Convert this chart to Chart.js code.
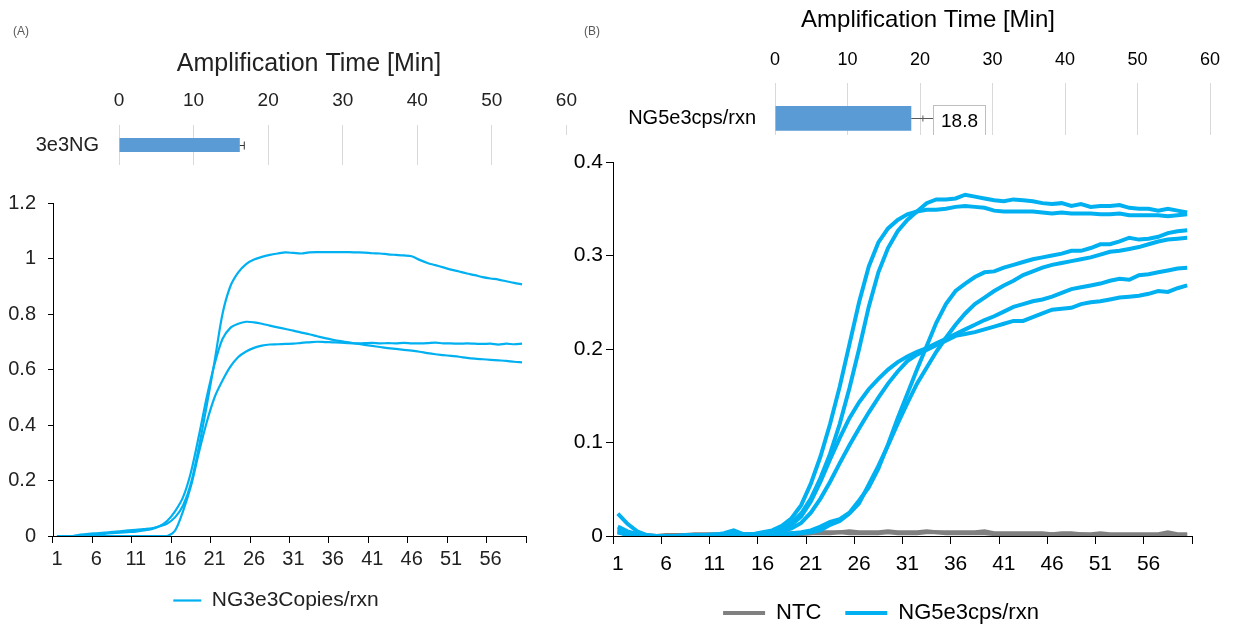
<!DOCTYPE html>
<html>
<head>
<meta charset="utf-8">
<script src="https://cdn.jsdelivr.net/npm/chart.js@4.4.1/dist/chart.umd.min.js"></script>
<style>
  html, body { margin: 0; padding: 0; background: #fff; overflow: hidden; }
  body { width: 1233px; height: 626px; position: relative; font-family: 'Liberation Sans', Arial, sans-serif; }
  canvas { position: absolute; }
  #lineB { background: #fff; }
  .tag { position: absolute; font-size: 12px; color: #595959; }
</style>
</head>
<body>
<canvas id="barA" width="590" height="190" style="left:0;top:0"></canvas>
<canvas id="barB" width="653" height="166" style="left:580px;top:0"></canvas>
<canvas id="lineA" width="560" height="447" style="left:0;top:179px"></canvas>
<canvas id="lineB" width="673" height="500" style="left:560px;top:135px"></canvas>
<div class="tag" style="left:13px;top:24px">(A)</div>
<div class="tag" style="left:584px;top:24px">(B)</div>
<script>
// amplification cycles 1..60 (x categories of both curve plots)
const cycles = Array.from({ length: 60 }, (_, i) => String(i + 1));

// (A) amplification time bar
const barLabelsA = ['3e3NG'];
const barValuesA = [16.2];
const barErrA    = [0.6];

// (B) amplification time bar
const barLabelsB = ['NG5e3cps/rxn'];
const barValuesB = [18.8];
const barErrB    = [1.6];

const timeTicks = [0, 10, 20, 30, 40, 50, 60];

// (A) three replicates, NG 3e3 copies/rxn
const legendA = 'NG3e3Copies/rxn';
const runA1 = [0, 0, 0, 0.005, 0.008, 0.010, 0.012, 0.015, 0.017, 0.020, 0.022, 0.025, 0.028, 0.035, 0.045, 0.068, 0.11, 0.19, 0.32, 0.47,
  0.63, 0.80, 0.90, 0.95, 0.98, 0.996, 1.006, 1.013, 1.018, 1.022, 1.020, 1.018, 1.022, 1.023, 1.023, 1.023, 1.023, 1.023, 1.022, 1.021,
  1.019, 1.018, 1.015, 1.013, 1.011, 1.008, 0.995, 0.984, 0.976, 0.968, 0.960, 0.953, 0.946, 0.940, 0.933, 0.928, 0.924, 0.918, 0.912, 0.907];
const runA2 = [0, 0, 0, 0.002, 0.004, 0.006, 0.008, 0.010, 0.012, 0.014, 0.016, 0.020, 0.025, 0.035, 0.055, 0.09, 0.14, 0.23, 0.36, 0.50,
  0.62, 0.71, 0.75, 0.765, 0.772, 0.770, 0.765, 0.758, 0.752, 0.746, 0.740, 0.733, 0.727, 0.720, 0.713, 0.707, 0.702, 0.698, 0.693, 0.689,
  0.685, 0.681, 0.677, 0.674, 0.671, 0.668, 0.664, 0.659, 0.655, 0.652, 0.649, 0.646, 0.642, 0.639, 0.637, 0.635, 0.633, 0.631, 0.628, 0.626];
const runA3 = [0, 0, 0, 0, 0, 0, 0, 0, 0, 0, 0, 0, 0, 0, 0, 0.02, 0.09, 0.18, 0.30, 0.41,
  0.50, 0.56, 0.61, 0.645, 0.665, 0.678, 0.686, 0.690, 0.691, 0.692, 0.693, 0.696, 0.698, 0.700, 0.699, 0.698, 0.697, 0.695, 0.694, 0.695,
  0.696, 0.694, 0.695, 0.694, 0.696, 0.694, 0.694, 0.695, 0.697, 0.694, 0.694, 0.693, 0.694, 0.693, 0.692, 0.693, 0.690, 0.693, 0.691, 0.693];

// (B) no-template controls
const legendNtc = 'NTC';
const ntc1 = [0.008, 0.004, 0.002, 0.001, 0.000, 0.000, 0.001, 0.001, 0.001, 0.001, 0.001, 0.001, 0.001, 0.001, 0.001, 0.001, 0.001, 0.001, 0.002, 0.002,
  0.003, 0.003, 0.003, 0.004, 0.003, 0.003, 0.003, 0.003, 0.004, 0.003, 0.003, 0.003, 0.004, 0.004, 0.003, 0.003, 0.003, 0.003, 0.003, 0.002,
  0.002, 0.002, 0.002, 0.002, 0.002, 0.002, 0.001, 0.002, 0.002, 0.001, 0.001, 0.001, 0.001, 0.001, 0.001, 0.001, 0.001, 0.002, 0.001, 0.001];
const ntc2 = [0.006, 0.003, 0.001, 0.000, 0.000, 0.001, 0.001, 0.001, 0.002, 0.002, 0.002, 0.002, 0.002, 0.002, 0.002, 0.002, 0.002, 0.003, 0.003, 0.003,
  0.003, 0.004, 0.004, 0.004, 0.005, 0.004, 0.004, 0.004, 0.005, 0.004, 0.004, 0.004, 0.005, 0.004, 0.004, 0.004, 0.004, 0.004, 0.005, 0.003,
  0.003, 0.003, 0.003, 0.003, 0.003, 0.002, 0.003, 0.003, 0.002, 0.002, 0.003, 0.002, 0.002, 0.002, 0.002, 0.002, 0.002, 0.004, 0.002, 0.002];

// (B) six replicates, NG 5e3 cps/rxn
const legendB = 'NG5e3cps/rxn';
const runB1 = [0.024, 0.013, 0.005, 0.001, 0.000, 0.000, 0.000, 0.001, 0.001, 0.001, 0.002, 0.002, 0.003, 0.002, 0.002, 0.004, 0.006, 0.011, 0.019, 0.033,
  0.056, 0.085, 0.12, 0.16, 0.205, 0.25, 0.288, 0.314, 0.329, 0.338, 0.344, 0.347, 0.349, 0.349, 0.350, 0.352, 0.353, 0.352, 0.351, 0.348,
  0.347, 0.347, 0.347, 0.347, 0.346, 0.345, 0.346, 0.345, 0.345, 0.345, 0.344, 0.344, 0.345, 0.343, 0.343, 0.343, 0.343, 0.342, 0.343, 0.344];
const runB2 = [0.010, 0.005, 0.002, 0.000, 0.000, 0.000, 0.000, 0.000, 0.001, 0.001, 0.001, 0.003, 0.006, 0.002, 0.002, 0.003, 0.005, 0.008, 0.014, 0.024,
  0.040, 0.062, 0.088, 0.12, 0.158, 0.20, 0.245, 0.282, 0.308, 0.326, 0.338, 0.347, 0.356, 0.360, 0.360, 0.361, 0.365, 0.363, 0.361, 0.359,
  0.358, 0.360, 0.359, 0.358, 0.356, 0.355, 0.356, 0.353, 0.355, 0.352, 0.353, 0.353, 0.354, 0.351, 0.350, 0.350, 0.348, 0.350, 0.348, 0.346];
const runB3 = [0.005, 0.003, 0.001, 0.000, 0.000, 0.000, 0.000, 0.000, 0.000, 0.001, 0.001, 0.001, 0.002, 0.001, 0.002, 0.003, 0.004, 0.007, 0.012, 0.021,
  0.037, 0.058, 0.082, 0.105, 0.126, 0.143, 0.157, 0.168, 0.178, 0.186, 0.192, 0.197, 0.201, 0.206, 0.211, 0.216, 0.221, 0.226, 0.231, 0.235,
  0.240, 0.245, 0.248, 0.251, 0.253, 0.256, 0.260, 0.264, 0.266, 0.268, 0.270, 0.273, 0.275, 0.274, 0.279, 0.280, 0.282, 0.284, 0.286, 0.287];
const runB4 = [0.004, 0.002, 0.000, 0.000, 0.000, 0.000, 0.000, 0.000, 0.001, 0.000, 0.001, 0.001, 0.001, 0.001, 0.001, 0.002, 0.003, 0.005, 0.008, 0.014,
  0.025, 0.040, 0.058, 0.078, 0.097, 0.115, 0.132, 0.148, 0.163, 0.176, 0.187, 0.194, 0.199, 0.204, 0.209, 0.214, 0.216, 0.218, 0.221, 0.224,
  0.227, 0.230, 0.230, 0.234, 0.238, 0.242, 0.243, 0.244, 0.248, 0.250, 0.251, 0.253, 0.255, 0.256, 0.257, 0.259, 0.262, 0.261, 0.265, 0.268];
const runB5 = [0.005, 0.002, 0.000, 0.000, 0.000, 0.000, 0.000, 0.000, 0.000, 0.000, 0.001, 0.000, 0.001, 0.001, 0.000, 0.001, 0.001, 0.002, 0.003, 0.004,
  0.006, 0.010, 0.015, 0.018, 0.025, 0.038, 0.052, 0.072, 0.098, 0.126, 0.152, 0.178, 0.203, 0.228, 0.248, 0.262, 0.270, 0.277, 0.282, 0.283,
  0.287, 0.290, 0.293, 0.296, 0.298, 0.300, 0.302, 0.305, 0.305, 0.308, 0.312, 0.312, 0.315, 0.319, 0.317, 0.318, 0.320, 0.324, 0.326, 0.327];
const runB6 = [0.004, 0.001, 0.000, 0.000, 0.000, 0.000, 0.000, 0.000, 0.000, 0.000, 0.000, 0.001, 0.001, 0.000, 0.000, 0.001, 0.001, 0.001, 0.002, 0.003,
  0.004, 0.006, 0.012, 0.016, 0.024, 0.035, 0.055, 0.075, 0.097, 0.120, 0.142, 0.163, 0.180, 0.197, 0.212, 0.226, 0.238, 0.248, 0.255, 0.262,
  0.268, 0.273, 0.279, 0.283, 0.287, 0.290, 0.292, 0.294, 0.296, 0.298, 0.301, 0.304, 0.305, 0.307, 0.309, 0.312, 0.315, 0.317, 0.318, 0.319];

const BLUE = '#00B0F0';
const GREY = '#808080';
const BAR = '#5B9BD5';
const AXIS = '#000';
const TXT_A = '#222';
const TXT_B = '#000';
const NONE = 'rgba(0,0,0,0)';
const FONT = "'Liberation Sans', Arial, sans-serif";

Chart.defaults.font.family = FONT;

// only every fifth cycle gets a tick mark (plus the closing one)
const everyFifth = c => (c.type !== 'tick' || c.index % 5 === 0) ? AXIS : NONE;
const fifthLabel = (v, i) => (i % 5 === 0 ? cycles[i] : '');
const plainNum = v => String(+v.toFixed(2));

// the figure centres its titles / legends off the plot, so nudge those boxes sideways
const shiftBoxes = {
  id: 'shiftBoxes',
  afterLayout(chart, args, o) {
    [[chart.titleBlock, o.title], [chart.legend, o.legend]].forEach(([box, dx]) => {
      if (box && dx) { box.left += dx; box.right += dx; }
    });
  }
};

// error bars + boxed value label for the horizontal bars
const barExtras = {
  id: 'barExtras',
  afterDatasetsDraw(chart, args, o) {
    const { ctx } = chart;
    const xs = chart.scales.x;
    const vals = chart.data.datasets[0].data;
    chart.getDatasetMeta(0).data.forEach((bar, i) => {
      const x0 = xs.getPixelForValue(vals[i]);
      const x1 = xs.getPixelForValue(vals[i] + o.errors[i]);
      const y = Math.round(bar.y) + 0.5;
      ctx.save();
      ctx.strokeStyle = o.color;
      ctx.lineWidth = 1;
      ctx.beginPath();
      ctx.moveTo(x0, y); ctx.lineTo(x1, y);
      ctx.moveTo(x1, y - o.cap); ctx.lineTo(x1, y + o.cap);
      ctx.stroke();
      if (o.showValue) {
        const bw = 52, bh = 31;
        const bx = Math.round(x0 + 22), by = Math.round(y + 2 - bh / 2);
        ctx.beginPath(); ctx.moveTo(x1, y); ctx.lineTo(bx, y); ctx.stroke();
        ctx.fillStyle = '#fff';
        ctx.fillRect(bx, by, bw, bh);
        ctx.strokeStyle = '#bfbfbf';
        ctx.strokeRect(bx + 0.5, by + 0.5, bw, bh);
        ctx.fillStyle = TXT_B;
        ctx.font = '19px ' + FONT;
        ctx.textAlign = 'center';
        ctx.textBaseline = 'middle';
        ctx.fillText(vals[i].toFixed(1), bx + bw / 2 + 0.5, by + bh / 2 + 1);
      }
      ctx.restore();
    });
  }
};

function timeBar(id, labels, values, errs, cfg) {
  return new Chart(document.getElementById(id), {
    type: 'bar',
    data: {
      labels: labels,
      datasets: [{ data: values, backgroundColor: BAR, borderWidth: 0, barPercentage: 0.35, categoryPercentage: 1 }]
    },
    plugins: [barExtras, shiftBoxes],
    options: {
      indexAxis: 'y',
      responsive: false,
      animation: false,
      layout: { padding: cfg.padding },
      plugins: {
        legend: { display: false },
        tooltip: { enabled: false },
        title: {
          display: true, text: 'Amplification Time [Min]', color: cfg.color,
          font: { size: cfg.titleSize, weight: 'normal' }, padding: { top: cfg.titleTop, bottom: 0 }
        },
        barExtras: { errors: errs, color: cfg.errColor, cap: cfg.cap, showValue: cfg.showValue },
        shiftBoxes: { title: cfg.titleShift }
      },
      scales: {
        x: {
          position: 'top', min: 0, max: 60,
          afterFit: s => { s.height = cfg.axisH; },
          afterBuildTicks: s => { s.ticks = timeTicks.map(v => ({ value: v })); },
          grid: { color: '#d9d9d9', drawTicks: false },
          border: { display: false },
          ticks: { padding: cfg.tickPad, color: cfg.color, font: { size: cfg.tickSize } }
        },
        y: {
          afterFit: s => { s.width = cfg.catW; },
          grid: { drawOnChartArea: false, drawTicks: true, tickLength: cfg.catGap, tickColor: NONE },
          border: { display: false },
          ticks: { padding: 0, color: cfg.color, font: { size: cfg.catSize } }
        }
      }
    }
  });
}

timeBar('barA', barLabelsA, barValuesA, barErrA, {
  padding: { left: 0, right: 20, top: 0, bottom: 25 },
  titleSize: 25, titleTop: 49, titleShift: 24, axisH: 46, tickPad: 13, tickSize: 19,
  catW: 119, catGap: 20, catSize: 20, color: TXT_A, errColor: '#333', cap: 4, showValue: false
});

timeBar('barB', barLabelsB, barValuesB, barErrB, {
  padding: { left: 0, right: 23, top: 0, bottom: 12 },
  titleSize: 24, titleTop: 6, titleShift: 33, axisH: 48, tickPad: 12, tickSize: 18,
  catW: 195, catGap: 19, catSize: 20, color: TXT_B, errColor: '#595959', cap: 3, showValue: true
});

function line(data, label, color, width, tension, order) {
  return { label, data, borderColor: color, backgroundColor: color, borderWidth: width,
    pointRadius: 0, tension, fill: false, order };
}

// (A) curves
new Chart(document.getElementById('lineA'), {
  type: 'line',
  data: {
    labels: cycles,
    datasets: [runA1, runA2, runA3].map(d => line(d, legendA, BLUE, 2.2, 0.3, 0))
  },
  plugins: [shiftBoxes],
  options: {
    responsive: false,
    animation: false,
    layout: { padding: { left: 0, right: 34, top: 24, bottom: 5 } },
    plugins: {
      tooltip: { enabled: false },
      shiftBoxes: { legend: 13 },
      legend: {
        position: 'bottom',
        labels: {
          usePointStyle: true, pointStyle: 'line', pointStyleWidth: 28, padding: 10,
          color: TXT_A, font: { size: 21 },
          filter: it => it.datasetIndex === 0
        }
      }
    },
    scales: {
      x: {
        offset: true,
        afterFit: s => { s.height = 44; },
        grid: { offset: true, drawOnChartArea: false, tickLength: 7, tickColor: everyFifth },
        border: { color: AXIS },
        ticks: { autoSkip: false, maxRotation: 0, minRotation: 0, padding: 4, color: TXT_A, font: { size: 20 }, callback: fifthLabel }
      },
      y: {
        min: 0, max: 1.2,
        afterFit: s => { s.width = 53; },
        grid: { drawOnChartArea: false, tickLength: 5, tickColor: AXIS },
        border: { color: AXIS },
        ticks: { stepSize: 0.2, padding: 12, color: TXT_A, font: { size: 20 }, callback: plainNum }
      }
    }
  }
});

// (B) curves
new Chart(document.getElementById('lineB'), {
  type: 'line',
  data: {
    labels: cycles,
    datasets: [
      line(ntc1, legendNtc, GREY, 4, 0, 1),
      line(ntc2, legendNtc, GREY, 4, 0, 1),
      ...[runB1, runB2, runB3, runB4, runB5, runB6].map(d => line(d, legendB, BLUE, 4, 0, 0))
    ]
  },
  plugins: [shiftBoxes],
  options: {
    responsive: false,
    animation: false,
    layout: { padding: { left: 0, right: 41, top: 27, bottom: 1 } },
    plugins: {
      tooltip: { enabled: false },
      shiftBoxes: { legend: 5 },
      legend: {
        position: 'bottom',
        labels: {
          usePointStyle: true, pointStyle: 'line', pointStyleWidth: 42, padding: 24,
          color: TXT_B, font: { size: 22 },
          filter: it => it.datasetIndex === 0 || it.datasetIndex === 2,
          sort: (a, b) => a.datasetIndex - b.datasetIndex
        }
      }
    },
    scales: {
      x: {
        offset: true,
        afterFit: s => { s.height = 42; },
        grid: { offset: true, drawOnChartArea: false, tickLength: 8, tickColor: everyFifth },
        border: { color: AXIS },
        ticks: { autoSkip: false, maxRotation: 0, minRotation: 0, padding: 8, color: TXT_B, font: { size: 21 }, callback: fifthLabel }
      },
      y: {
        min: 0, max: 0.4,
        afterFit: s => { s.width = 53; },
        grid: { drawOnChartArea: false, tickLength: 7, tickColor: AXIS },
        border: { color: AXIS },
        ticks: { stepSize: 0.1, padding: 3, color: TXT_B, font: { size: 21 }, callback: plainNum }
      }
    }
  }
});
</script>
</body>
</html>
